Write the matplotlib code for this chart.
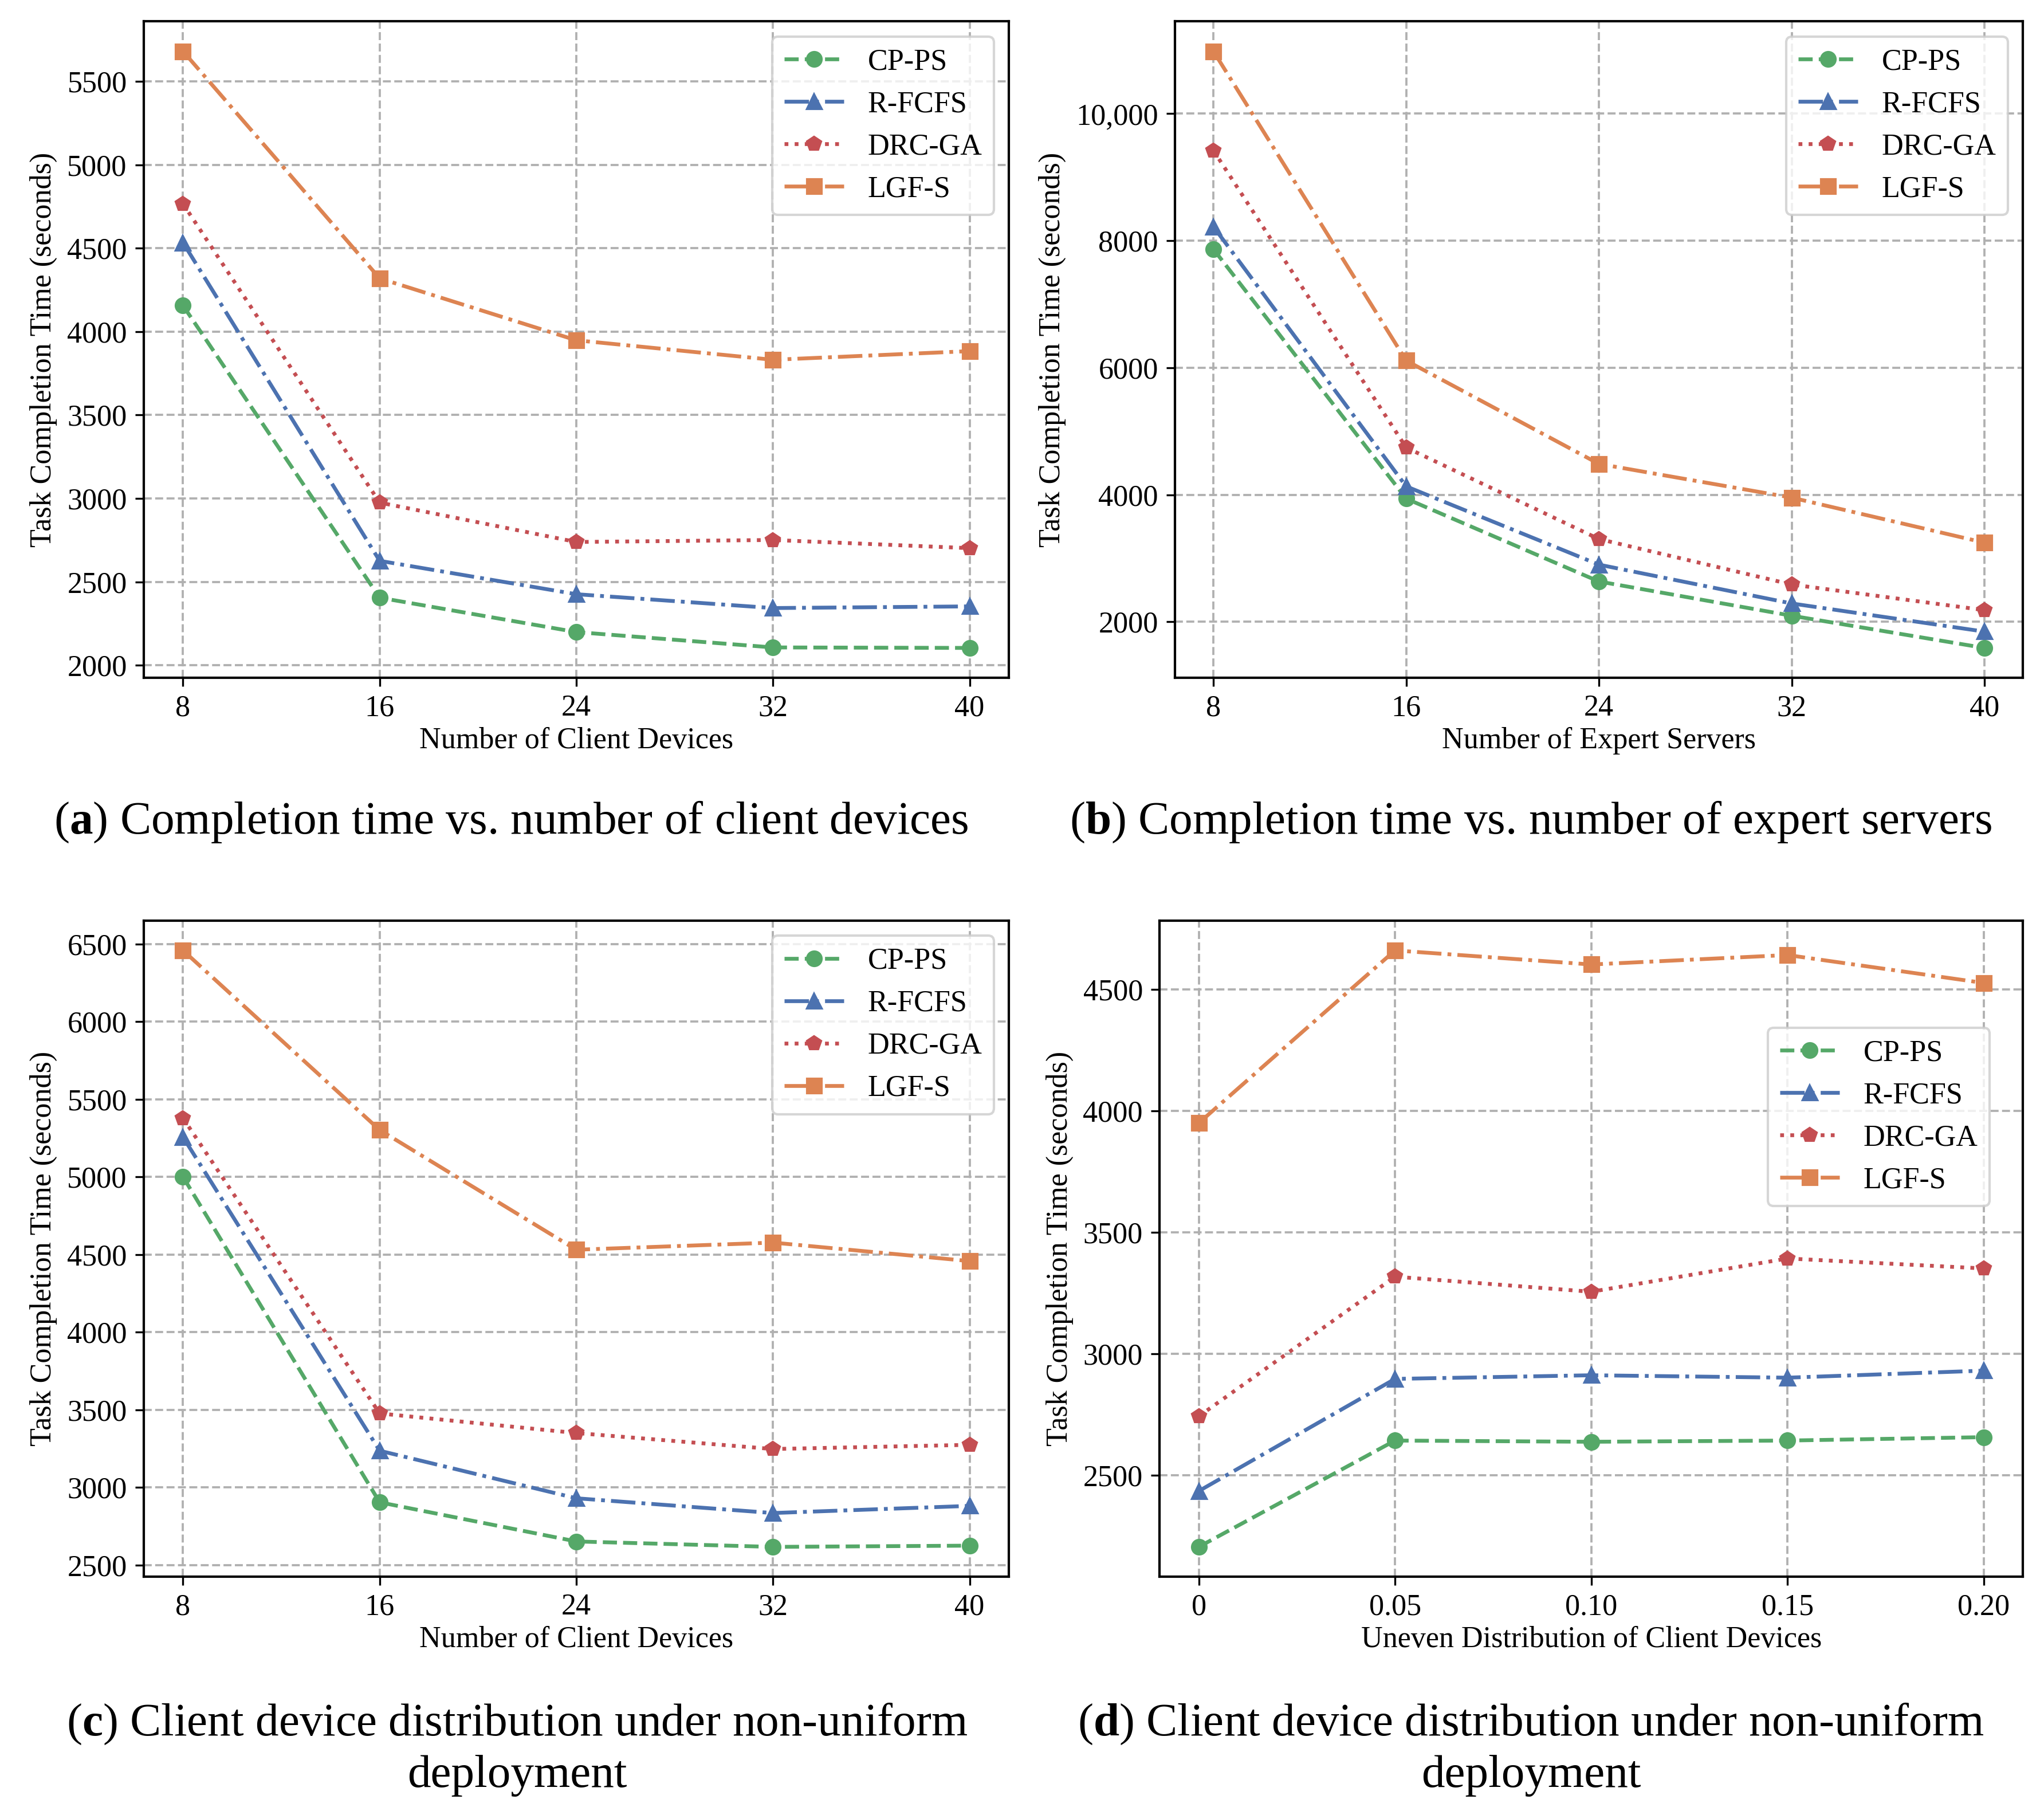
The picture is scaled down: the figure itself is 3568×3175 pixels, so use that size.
import matplotlib
matplotlib.use('Agg')
import matplotlib.pyplot as plt
from matplotlib.ticker import FuncFormatter

plt.rcParams['font.family'] = 'serif'
plt.rcParams['font.serif'] = ['Liberation Serif', 'DejaVu Serif']
plt.rcParams['mathtext.fontset'] = 'custom'
plt.rcParams['mathtext.rm'] = 'Liberation Serif'
plt.rcParams['mathtext.bf'] = 'Liberation Serif:bold'
plt.rcParams['font.size'] = 12.5

# series names and styles
methods = ['CP-PS', 'R-FCFS', 'DRC-GA', 'LGF-S']
colors = ['#55A868', '#4C72B0', '#C44E52', '#DD8452']
styles = ['--', '-.', ':', '-.']
markers = ['o', '^', 'p', 's']

# (a) number of client devices
x_a = [8, 16, 24, 32, 40]
a_cpps = [4156, 2405, 2199, 2107, 2104]
a_rfcfs = [4533, 2626, 2426, 2343, 2353]
a_drcga = [4766, 2975, 2739, 2751, 2702]
a_lgfs = [5680, 4319, 3948, 3831, 3883]

# (b) number of expert servers
x_b = [8, 16, 24, 32, 40]
b_cpps = [7867, 3940, 2636, 2097, 1590]
b_rfcfs = [8221, 4133, 2901, 2290, 1847]
b_drcga = [9420, 4744, 3304, 2588, 2185]
b_lgfs = [10982, 6113, 4487, 3956, 3247]

# (c) non-uniform deployment vs client devices
x_c = [8, 16, 24, 32, 40]
c_cpps = [5000, 2905, 2653, 2618, 2626]
c_rfcfs = [5256, 3237, 2931, 2836, 2882]
c_drcga = [5378, 3477, 3351, 3248, 3275]
c_lgfs = [6458, 5302, 4531, 4577, 4458]

# (d) uneven distribution
x_d = [0, 0.05, 0.10, 0.15, 0.20]
x_d_labels = ['0', '0.05', '0.10', '0.15', '0.20']
d_cpps = [2204, 2642, 2637, 2642, 2656]
d_rfcfs = [2434, 2896, 2911, 2901, 2930]
d_drcga = [2742, 3317, 3255, 3392, 3351]
d_lgfs = [3950, 4661, 4603, 4642, 4527]

fig = plt.figure(figsize=(3568 / 300, 3175 / 300), dpi=300)

boxes = [
    [0.0703, 0.6274, 0.4936 - 0.0703, 0.9882 - 0.6274],
    [0.5748, 0.6274, 0.9897 - 0.5748, 0.9882 - 0.6274],
    [0.0703, 0.1332, 0.4936 - 0.0703, 0.4939 - 0.1332],
    [0.5673, 0.1332, 0.9897 - 0.5673, 0.4939 - 0.1332],
]

panels = [
    (x_a, [a_cpps, a_rfcfs, a_drcga, a_lgfs], 'Number of Client Devices'),
    (x_b, [b_cpps, b_rfcfs, b_drcga, b_lgfs], 'Number of Expert Servers'),
    (x_c, [c_cpps, c_rfcfs, c_drcga, c_lgfs], 'Number of Client Devices'),
    (x_d, [d_cpps, d_rfcfs, d_drcga, d_lgfs], 'Uneven Distribution of Client Devices'),
]

axes = []
for i, (xs, series, xlabel) in enumerate(panels):
    ax = fig.add_axes(boxes[i])
    for ys, name, c, ls, m in zip(series, methods, colors, styles, markers):
        ax.plot(xs, ys, linestyle=ls, marker=m, color=c, label=name,
                linewidth=1.6, markersize=6)
    ax.set_xticks(xs)
    ax.set_xlabel(xlabel, labelpad=2)
    ax.set_ylabel('Task Completion Time (seconds)')
    ax.grid(True, linestyle='--', color='#b0b0b0', linewidth=0.9)
    for s in ax.spines.values():
        s.set_linewidth(1.0)
    axes.append(ax)

axes[3].set_xticklabels(x_d_labels)
axes[1].yaxis.set_major_formatter(
    FuncFormatter(lambda v, p: f'{v:,.0f}' if v >= 10000 else f'{v:.0f}'))

for ax in axes[:3]:
    ax.legend(loc='upper right', fancybox=True, framealpha=0.8)
axes[3].legend(loc='upper right', bbox_to_anchor=(0.9615, 0.837),
               borderaxespad=0, fancybox=True, framealpha=0.8)

cap = dict(ha='center', va='center', fontsize=19.5, linespacing=1.27)
fig.text(0.25, 0.548, r'($\mathbf{a}$) Completion time vs. number of client devices', **cap)
fig.text(0.749, 0.548, r'($\mathbf{b}$) Completion time vs. number of expert servers', **cap)
fig.text(0.253, 0.0385, r'($\mathbf{c}$) Client device distribution under non-uniform' + '\ndeployment', **cap)
fig.text(0.749, 0.0385, r'($\mathbf{d}$) Client device distribution under non-uniform' + '\ndeployment', **cap)

fig.savefig('out.png', dpi=300)
